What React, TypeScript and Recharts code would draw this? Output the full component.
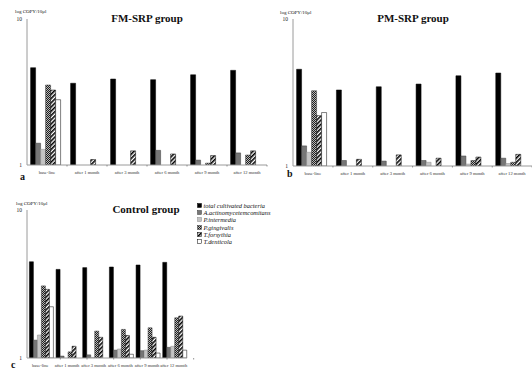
import React from 'react';
import { BarChart, Bar, XAxis, YAxis, Legend } from 'recharts';

const categories = ['base-line', 'after 1 month', 'after 3 month', 'after 6 month', 'after 9 month', 'after 12 month'];
const seriesKeys = ['total', 'aa', 'pi', 'pg', 'tf', 'td'];
const seriesNames = ['total cultivated bacteria', 'A.actinomycetemcomitans', 'P.intermedia', 'P.gingivalis', 'T.forsythia', 'T.denticola'];
const yTicks = [1, 10];

// FM-SRP group
const fmTotal = [4.64, 3.63, 3.88, 3.84, 4.15, 4.45];
const fmAa = [1.41, null, null, 1.26, 1.08, 1.21];
const fmPi = [1.28, null, null, null, null, null];
const fmPg = [3.53, null, null, null, 1.03, 1.17];
const fmTf = [3.26, 1.09, 1.25, 1.19, 1.16, 1.25];
const fmTd = [2.8, null, null, null, null, null];

// PM-SRP group
const pmTotal = [4.55, 3.29, 3.46, 3.61, 4.11, 4.29];
const pmAa = [1.37, 1.09, 1.08, 1.09, 1.17, 1.13];
const pmPi = [1.24, null, null, 1.06, 1.03, 1.04];
const pmPg = [3.25, null, null, null, 1.09, 1.06];
const pmTf = [2.2, 1.11, 1.19, 1.13, 1.15, 1.2];
const pmTd = [2.31, null, null, null, null, null];

// Control group
const ctTotal = [4.47, 3.97, 4.08, 4.12, 4.25, 4.43];
const ctAa = [1.32, 1.03, 1.05, 1.13, 1.12, 1.18];
const ctPi = [1.43, null, 1.01, 1.15, 1.13, 1.2];
const ctPg = [3.07, 1.1, 1.52, 1.56, 1.6, 1.87];
const ctTf = [2.91, 1.2, 1.38, 1.42, 1.38, 1.92];
const ctTd = [2.22, null, null, 1.06, 1.08, 1.13];

const build = (cols: (number | null)[][]) =>
  categories.map((c, i) => {
    const row: any = { cat: c };
    seriesKeys.forEach((k, j) => {
      row[k] = cols[j][i];
    });
    return row;
  });

const fmData = build([fmTotal, fmAa, fmPi, fmPg, fmTf, fmTd]);
const pmData = build([pmTotal, pmAa, pmPi, pmPg, pmTf, pmTd]);
const ctData = build([ctTotal, ctAa, ctPi, ctPg, ctTf, ctTd]);

const FONT = '"Liberation Serif", "DejaVu Serif", serif';

const styles: Record<string, { fill: string; stroke: string }> = {
  total: { fill: '#000000', stroke: '#000000' },
  aa: { fill: '#767676', stroke: '#3a3a3a' },
  pi: { fill: '#c4c4c4', stroke: '#8a8a8a' },
  pg: { fill: 'url(#pgPattern)', stroke: '#333333' },
  tf: { fill: 'url(#tfPattern)', stroke: '#000000' },
  td: { fill: '#ffffff', stroke: '#000000' },
};

const XTick = (props: any) => {
  const { x, y, payload } = props;
  return (
    <g>
      <line x1={x + 20} x2={x + 20} y1={y} y2={y + 1.5} stroke="#777" strokeWidth={0.8} />
      <text x={x} y={y + 9} textAnchor="middle" fontSize={4.6} fontFamily={FONT} fill="#333">
        {payload.value}
      </text>
    </g>
  );
};

const YTick = (props: any) => {
  const { x, y, payload } = props;
  return (
    <text x={x} y={y + 2} textAnchor="end" fontSize={5.5} fontFamily={FONT} fill="#222">
      {payload.value}
    </text>
  );
};

const LegendContent = () => (
  <div style={{ fontFamily: FONT, fontStyle: 'italic', fontSize: 6.4, lineHeight: '7.2px', color: '#111', whiteSpace: 'nowrap' }}>
    {seriesKeys.map((k, i) => (
      <div key={k} style={{ display: 'flex', alignItems: 'center', height: 7.2 }}>
        <svg width={5} height={5} style={{ marginRight: 1.5 }}>
          <rect x={0.5} y={0.5} width={4} height={4} fill={styles[k].fill} stroke={styles[k].stroke} strokeWidth={0.5} />
        </svg>
        <span>{seriesNames[i]}</span>
      </div>
    ))}
  </div>
);

type PanelProps = {
  data: any[];
  left: number;
  top: number;
  width: number;
  height: number;
  marginTop: number;
  xAxisHeight: number;
  marginRight: number;
  legend?: boolean;
};

const Panel = ({ data, left, top, width, height, marginTop, xAxisHeight, marginRight, legend }: PanelProps) => (
  <div style={{ position: 'absolute', left, top, width, height }}>
    <BarChart
      width={width}
      height={height}
      data={data}
      margin={{ top: marginTop, right: marginRight, bottom: 0, left: 0 }}
      barCategoryGap="9%"
      barGap={0}
    >
      <XAxis
        dataKey="cat"
        height={xAxisHeight}
        interval={0}
        tickSize={0}
        tickMargin={0}
        tickLine={false}
        tick={<XTick />}
        axisLine={{ stroke: '#9a9a9a', strokeWidth: 1 }}
      />
      <YAxis
        scale="log"
        domain={[1, 10]}
        ticks={yTicks}
        allowDataOverflow
        width={27}
        tickLine={false}
        tickSize={0}
        tickMargin={5}
        tick={<YTick />}
        axisLine={{ stroke: '#9a9a9a', strokeWidth: 1 }}
      />
      {seriesKeys.map((k, i) => (
        <Bar
          key={k}
          dataKey={k}
          name={seriesNames[i]}
          fill={styles[k].fill}
          stroke={styles[k].stroke}
          strokeWidth={0.5}
          isAnimationActive={false}
        />
      ))}
      {legend && (
        <Legend
          content={<LegendContent />}
          layout="vertical"
          verticalAlign="top"
          align="right"
          wrapperStyle={{ left: 197, top: 17, width: 80, right: 'auto' }}
        />
      )}
    </BarChart>
  </div>
);

const textStyle = (left: number, top: number, size: number, bold: boolean): React.CSSProperties => ({
  position: 'absolute',
  left,
  top,
  fontSize: size,
  fontWeight: bold ? 'bold' : 'normal',
  fontFamily: FONT,
  lineHeight: `${size + 1}px`,
  whiteSpace: 'nowrap',
  color: '#111',
});

export default function App() {
  return (
    <div style={{ position: 'absolute', left: 0, top: 0, width: 532, height: 370, background: '#fff', overflow: 'hidden' }}>
      <svg width={0} height={0} style={{ position: 'absolute' }}>
        <defs>
          <pattern id="pgPattern" width={2} height={2} patternUnits="userSpaceOnUse">
            <rect width={2} height={2} fill="#b8b8b8" />
            <rect width={1} height={1} fill="#1e1e1e" />
            <rect x={1} y={1} width={1} height={1} fill="#1e1e1e" />
          </pattern>
          <pattern id="tfPattern" width={3} height={3} patternUnits="userSpaceOnUse" patternTransform="rotate(45)">
            <rect width={3} height={3} fill="#ffffff" />
            <rect width={1.6} height={3} fill="#000000" />
          </pattern>
        </defs>
      </svg>

      <Panel data={fmData} left={0} top={0} width={270} height={185} marginTop={19} xAxisHeight={20} marginRight={3} />
      <Panel data={pmData} left={266} top={0} width={266} height={185} marginTop={19} xAxisHeight={19} marginRight={0} />
      <Panel data={ctData} left={0} top={185} width={270} height={185} marginTop={25} xAxisHeight={12} marginRight={3} legend />

      <div style={{ ...textStyle(97, 12, 11, true), width: 100, textAlign: 'center' }}>FM-SRP group</div>
      <div style={{ ...textStyle(363, 12, 11, true), width: 100, textAlign: 'center' }}>PM-SRP group</div>
      <div style={{ ...textStyle(96, 203, 11, true), width: 100, textAlign: 'center' }}>Control group</div>

      <div style={textStyle(15, 9, 5, false)}>log COPY/10μl</div>
      <div style={textStyle(280, 10, 5, false)}>log COPY/10μl</div>
      <div style={textStyle(16, 201, 5, false)}>log COPY/10μl</div>

      <div style={textStyle(20, 171, 10, true)}>a</div>
      <div style={textStyle(287, 168, 10, true)}>b</div>
      <div style={textStyle(11, 359, 10, true)}>c</div>
    </div>
  );
}
